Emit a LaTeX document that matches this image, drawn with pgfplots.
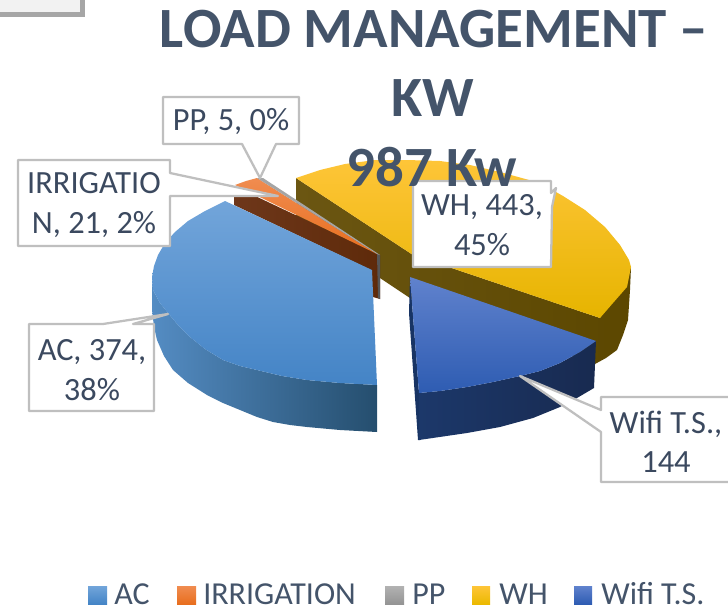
\documentclass[border=0pt]{standalone}
\usepackage{pgfplots}
\usepackage{fontspec}
\pgfplotsset{compat=1.18}
\setmainfont{Carlito}

\definecolor{titleblue}{RGB}{68,84,106}
\definecolor{labeltext}{RGB}{59,73,95}
\definecolor{boxline}{RGB}{191,191,191}

% px -> pt is 0.75, the axis runs in reference pixels
\tikzset{lab/.style={text=labeltext, align=center, inner sep=0pt, font=\fontsize{24.3}{29.5}\selectfont},
    ttl/.style={text=titleblue, anchor=base, inner sep=0pt, font=\fontsize{42.7}{50}\selectfont\bfseries},
    lgd/.style={text=titleblue, anchor=base west, inner sep=0pt, font=\fontsize{24}{28}\selectfont},
    callout/.style={draw=boxline, line width=1.7pt, line join=round, fill=white}}

\begin{document}
\begin{tikzpicture}
\begin{axis}[
    scale only axis,
    width=546pt,
    height=455.25pt,
    xmin=0, xmax=728,
    ymin=0, ymax=607,
    y dir=reverse,
    axis line style={draw=none},
    ticks=none,
    clip=true,
]

% leftover frame at the top left corner
\addplot[draw=none, fill=black!35] coordinates {(0,0) (85,0) (85,17) (0,17)} --cycle;
\addplot[draw=none, fill=black!5] coordinates {(0,0) (80,0) (80,12) (0,12)} --cycle;

% WH walls
\addplot[draw=none, left color={rgb,255:red,107;green,86;blue,18}, right color={rgb,255:red,92;green,71;blue,0}] coordinates {
    (296,178) (296,222) (413,300) (595,364) (606,358) (617,350) (623,335) (628,320) (630,290)
    (631,267) (600,318) (413,255)
} --cycle;
% WH top
\addplot[draw=none, top color={rgb,255:red,254;green,197;blue,56}, middle color={rgb,255:red,255;green,192;blue,0}, bottom color={rgb,255:red,230;green,180;blue,0}] coordinates {
    (296,178) (320,170) (345,164) (375,160) (407,160) (440,161) (470,165) (500,172) (540,183)
    (563,196) (585,210) (605,227) (620,245) (629,260) (631,267) (627,287) (613,303) (600,318) (413,255)
} --cycle;

% IRRIGATION wall and top
\addplot[draw=none, left color={rgb,255:red,110;green,55;blue,26}, right color={rgb,255:red,94;green,42;blue,10}] coordinates {
    (234,186) (234,205) (371,270) (373,297) (380,299) (380,255)
} --cycle;
\addplot[draw=none, top color={rgb,255:red,240;green,140;blue,80}, bottom color={rgb,255:red,232;green,110;blue,30}] coordinates {
    (235,185) (246,181) (257,178) (377,254)
} --cycle;

% PP wall and top
\addplot[draw=none, fill={rgb,255:red,85;green,85;blue,85}] coordinates {(377,254) (380,255) (380,299) (378,298)} --cycle;
\addplot[draw=none, fill={rgb,255:red,165;green,165;blue,165}] coordinates {(257,178) (263,178) (380,255) (377,254)} --cycle;

% AC wall
\addplot[draw=none, left color={rgb,255:red,84;green,140;blue,195}, middle color={rgb,255:red,52;green,102;blue,150}, right color={rgb,255:red,37;green,78;blue,110}] coordinates {
    (152,277) (152,310) (154,327) (157,340) (164,356) (173,370) (188,383) (207,395) (223,403) (240,410)
    (257,417) (273,422) (290,425) (307,427) (340,430) (377,432)
    (377,385) (340,383) (307,380) (282,376) (257,370) (240,366) (223,360) (205,349) (190,337) (178,325) (168,313) (160,303) (153,290)
} --cycle;
% AC top
\addplot[draw=none, top color={rgb,255:red,114;green,165;blue,218}, middle color={rgb,255:red,88;green,154;blue,216}, bottom color={rgb,255:red,68;green,132;blue,198}] coordinates {
    (225,201) (205,211) (188,221) (175,232) (165,243) (158,255) (154,266) (152,277) (153,290) (160,303) (168,313) (178,325)
    (190,337) (205,349) (223,360) (240,366) (257,370) (282,376) (307,380) (340,383) (377,385) (372,270)
} --cycle;

% Wifi T.S. walls
\addplot[draw=none, fill={rgb,255:red,24;green,52;blue,100}] coordinates {(410,277) (409,313) (418,440) (420,440) (419,393)} --cycle;
\addplot[draw=none, left color={rgb,255:red,28;green,56;blue,106}, right color={rgb,255:red,24;green,42;blue,80}] coordinates {
    (419,393) (440,391) (467,387) (493,382) (520,376) (540,371) (560,363) (580,352) (596,341)
    (594,388) (577,398) (560,407) (533,418) (500,427) (467,433) (419,440)
} --cycle;
% Wifi T.S. top
\addplot[draw=none, top color={rgb,255:red,96;green,130;blue,205}, middle color={rgb,255:red,62;green,108;blue,198}, bottom color={rgb,255:red,46;green,92;blue,178}] coordinates {
    (410,277) (596,341) (580,352) (560,363) (540,371) (520,376) (493,382) (467,387) (440,391) (419,393)
} --cycle;

% callouts
\addplot[callout] coordinates {
    (163,97) (299,97) (299,144) (276,144) (260,178) (242,144) (163,144)
} --cycle;
\addplot[callout] coordinates {
    (18,160) (170,160) (170,173) (278,196) (170,196) (170,246) (18,246)
} --cycle;
\addplot[callout] coordinates {
    (413,181) (551,181) (551,193) (556,188) (552,207) (551,267) (413,267)
} --cycle;
\addplot[callout] coordinates {
    (29,324) (103,324) (168,314) (133,324) (154,324) (154,411) (29,411)
} --cycle;
\addplot[callout] coordinates {
    (601,397) (740,397) (740,482) (601,482) (601,432) (520,376) (601,410)
} --cycle;

\node[lab] at (axis cs:231,122) {PP, 5, 0\%};
\node[lab] at (axis cs:94,205) {IRRIGATIO\\N, 21, 2\%};
\node[lab] at (axis cs:482,225) {WH, 443,\\45\%};
\node[lab] at (axis cs:92,370) {AC, 374,\\38\%};
\node[lab] at (axis cs:666,442) {Wifi T.S.,\\144};

% legend swatches
\addplot[draw=none, top color={rgb,255:red,114;green,165;blue,218}, bottom color={rgb,255:red,68;green,132;blue,198}] coordinates {(88,586) (107,586) (107,604) (88,604)} --cycle;
\addplot[draw=none, top color={rgb,255:red,240;green,140;blue,80}, bottom color={rgb,255:red,232;green,110;blue,30}] coordinates {(177,586) (196,586) (196,604) (177,604)} --cycle;
\addplot[draw=none, top color={rgb,255:red,178;green,178;blue,178}, bottom color={rgb,255:red,148;green,148;blue,148}] coordinates {(385,586) (404,586) (404,604) (385,604)} --cycle;
\addplot[draw=none, top color={rgb,255:red,254;green,197;blue,56}, bottom color={rgb,255:red,235;green,185;blue,0}] coordinates {(472,586) (490,586) (490,604) (472,604)} --cycle;
\addplot[draw=none, top color={rgb,255:red,96;green,130;blue,205}, bottom color={rgb,255:red,46;green,92;blue,178}] coordinates {(574,586) (592,586) (592,604) (574,604)} --cycle;

\node[lgd] at (axis cs:114,604) {AC};
\node[lgd] at (axis cs:203,604) {IRRIGATION};
\node[lgd] at (axis cs:412,604) {PP};
\node[lgd] at (axis cs:499,604) {WH};
\node[lgd] at (axis cs:601,604) {Wifi T.S.};

% title, on top of the WH callout
\node[ttl] at (axis cs:434,47) {LOAD MANAGEMENT --};
\node[ttl] at (axis cs:433,116) {KW};
\node[ttl] at (axis cs:432,186) {987 Kw};

\end{axis}
\end{tikzpicture}
\end{document}
